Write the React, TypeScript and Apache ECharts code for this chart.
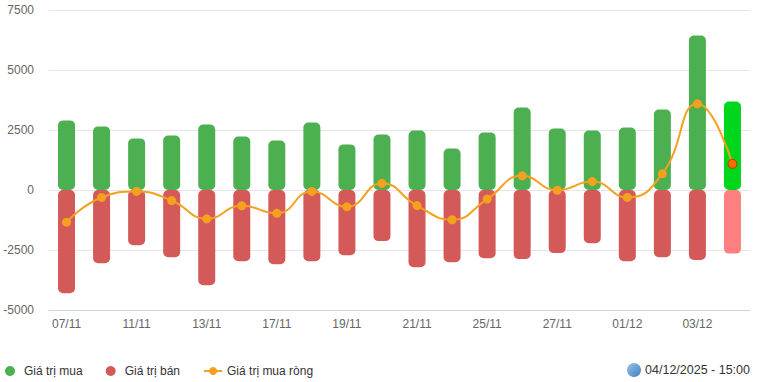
import React, { useEffect, useRef } from "react";
import * as echarts from "echarts";

const categories = ["07/11", "10/11", "11/11", "12/11", "13/11", "14/11", "17/11", "18/11", "19/11", "20/11", "21/11", "24/11", "25/11", "26/11", "27/11", "28/11", "01/12", "02/12", "03/12", "04/12"];
const buyValues = [2900, 2650, 2150, 2270, 2730, 2230, 2060, 2810, 1900, 2310, 2480, 1730, 2400, 3440, 2560, 2480, 2600, 3350, 6440, 3690];
const sellValues = [-4300, -3050, -2300, -2800, -3970, -2970, -3090, -2970, -2720, -2130, -3220, -3010, -2840, -2880, -2630, -2220, -2970, -2800, -2920, -2650];
const netValues = [-1340, -310, -60, -440, -1200, -660, -970, -60, -700, 280, -650, -1240, -380, 590, -10, 350, -310, 680, 3590, 1090];
const yTicks = { min: -5000, max: 7500, interval: 2500 };
const timestamp = "04/12/2025 - 15:00";

const FONT = "Arial, 'Liberation Sans', sans-serif";
const GREEN = "#4caf50";
const RED = "#d45a5a";
const ORANGE = "#f5a01e";
const LIVE_GREEN = "#00d61c";
const LIVE_RED = "#ff8080";

export default function App() {
  const ref = useRef<HTMLDivElement>(null);
  useEffect(() => {
    document.body.style.margin = "0";
    if (!ref.current) return;
    const chart = echarts.init(ref.current, undefined, { renderer: "svg" });
    const last = categories.length - 1;
    chart.setOption({
      animation: false,
      textStyle: { fontFamily: FONT },
      grid: { left: 49, right: 7, top: 10, bottom: 72 },
      legend: {
        left: 0,
        top: 360,
        itemWidth: 18,
        itemHeight: 10,
        itemGap: 23,
        textStyle: { color: "#333", fontSize: 12, fontFamily: FONT },
        data: [
          { name: "Giá trị mua", icon: "circle", itemStyle: { color: GREEN } },
          { name: "Giá trị bán", icon: "circle", itemStyle: { color: RED } },
          { name: "Giá trị mua ròng" },
        ],
      },
      xAxis: {
        type: "category",
        data: categories,
        axisLine: { onZero: false, lineStyle: { color: "#ccd6eb" } },
        axisTick: { show: false },
        axisLabel: { interval: 1, color: "#666", fontSize: 12, margin: 8, fontFamily: FONT },
      },
      yAxis: {
        type: "value",
        min: yTicks.min,
        max: yTicks.max,
        interval: yTicks.interval,
        axisLine: { show: false },
        axisTick: { show: false },
        axisLabel: { color: "#666", fontSize: 12, margin: 15, fontFamily: FONT, formatter: (v: number) => String(v) },
        splitLine: { lineStyle: { color: "#e6e6e6" } },
      },
      series: [
        {
          name: "Giá trị mua",
          type: "bar",
          barWidth: 17,
          barGap: "-100%",
          itemStyle: { color: GREEN, borderRadius: 5 },
          data: buyValues.map((v, i) => (i === last ? { value: v, itemStyle: { color: LIVE_GREEN } } : v)),
        },
        {
          name: "Giá trị bán",
          type: "bar",
          barWidth: 17,
          barGap: "-100%",
          itemStyle: { color: RED, borderRadius: 5 },
          data: sellValues.map((v, i) => (i === last ? { value: v, itemStyle: { color: LIVE_RED } } : v)),
        },
        {
          name: "Giá trị mua ròng",
          type: "line",
          smooth: 0.5,
          symbol: "circle",
          symbolSize: 9,
          z: 5,
          lineStyle: { color: ORANGE, width: 2 },
          itemStyle: { color: ORANGE },
          data: netValues.map((v, i) =>
            i === last
              ? { value: v, itemStyle: { color: "#ff6a00", borderColor: "#b03a00", borderWidth: 1 } }
              : v
          ),
        },
      ],
      graphic: [
        {
          type: "circle",
          shape: { cx: 634, cy: 370, r: 7 },
          style: {
            fill: new echarts.graphic.LinearGradient(0, 0, 1, 1, [
              { offset: 0, color: "#9cc3e8" },
              { offset: 1, color: "#3d7fc4" },
            ]),
          },
        },
        {
          type: "text",
          right: 7,
          top: 363,
          style: { text: timestamp, fill: "#333", font: `12.5px ${FONT}` },
        },
      ],
    });
    return () => chart.dispose();
  }, []);
  return <div ref={ref} style={{ width: 757, height: 382 }} />;
}
